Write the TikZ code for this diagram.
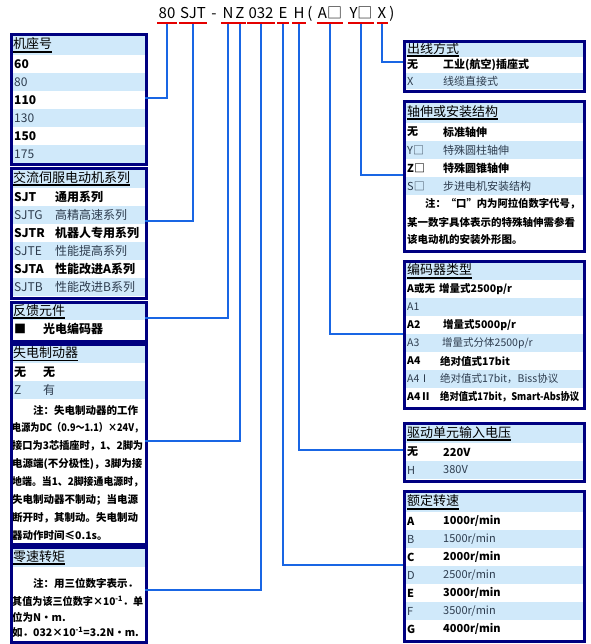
\documentclass[tikz,border=0pt]{standalone}
\usepackage{fontspec}
\usepackage{graphicx}
\setmainfont{Noto Sans CJK SC}
\definecolor{rowblue}{RGB}{208,233,250}
\definecolor{navy}{RGB}{0,0,128}
\definecolor{lineblue}{RGB}{25,102,228}
\definecolor{ulred}{RGB}{228,0,0}
\definecolor{rowtxt}{RGB}{45,60,78}
\newsavebox{\fitbox}
\newcommand{\fitto}[2]{\sbox{\fitbox}{#2}\ifdim\wd\fitbox>#1\resizebox{#1}{\ht\fitbox}{\usebox{\fitbox}}\else\usebox{\fitbox}\fi}
\def\bxl{9.5}\def\bxr{145}\def\rh{18}
\def\rowfs{\fontsize{12}{12}\selectfont}
\newcommand{\mkrow}[7]{%
  \if#7b\def\rfill{white}\def\rfnt{\bfseries}\def\rcol{black}\else\def\rfill{rowblue}\def\rfnt{\mdseries}\def\rcol{rowtxt}\fi
  \fill[fill=\rfill] (\bxl,#2) rectangle (\bxr,#2+\rh);
  \node[anchor=west,inner sep=0,text=\rcol,font=\rowfs\rfnt] (#1c) at (#4,#2+\rh/2) {#3};
  \node[anchor=west,inner sep=0,text=\rcol,font=\rowfs\rfnt] (#1d) at (#6,#2+\rh/2) {#5};
}
\tikzset{
  boxf/.style={draw=navy,line width=3pt,inner sep=0pt,anchor=north west},
  ttl/.style={anchor=west,inner sep=0pt,font=\fontsize{13}{13}\selectfont,text=black},
  ul/.style={line width=1.6pt,black},
  ulr/.style={line width=2pt,ulred},
  conn/.style={line width=2pt,lineblue},
  code/.style={anchor=south,font=\fontsize{15}{15}\selectfont,inner xsep=1pt,inner ysep=0pt,text height=11.5pt,text depth=4pt},
  note/.style={anchor=west,inner sep=0pt,font=\fontsize{10.5}{10.5}\selectfont\bfseries,text=black},
}
\begin{document}
\begin{tikzpicture}[x=1pt,y=-1pt]
\useasboundingbox (0,0) rectangle (590,644);
\fill[white] (0,0) rectangle (590,644);
% ---------- top code ----------
\node[code] (cA) at (167,23) {80};
\node[code] (cB) at (193,23) {SJT};
\node[code] (cDash) at (214,23) {-};
\node[code] (cN) at (228,23) {N};
\node[code] (cZ) at (240,23) {Z};
\node[code] (cT) at (261,23) {032};
\node[code] (cE) at (283,23) {E};
\node[code] (cH) at (299,23) {H};
\node[code] (cLP) at (310,23) {(};
\node[code] (cAb) at (330,23) {A□};
\node[code] (cYb) at (361,23) {Y□};
\node[code] (cX) at (382,23) {X};
\node[code] (cRP) at (392,23) {)};
\foreach \n in {cA,cB,cN,cZ,cT,cE,cH,cAb,cYb,cX}{\draw[ulr] (\n.south west) -- (\n.south east);}
% ---------- left boxes ----------
% B1
\fill[rowblue] (9.5,33) rectangle (145,55);
\node[ttl] (T1) at (13,44) {机座号};
\draw[ul] ([yshift=-1.5pt]T1.south west) -- ([yshift=-1.5pt]T1.south east);
\mkrow{a1}{55}{\textbf{60}}{14}{}{55}{b}
\mkrow{a2}{73}{80}{14}{}{55}{r}
\mkrow{a3}{91}{110}{14}{}{55}{b}
\mkrow{a4}{109}{130}{14}{}{55}{r}
\mkrow{a5}{127}{150}{14}{}{55}{b}
\mkrow{a6}{145}{175}{14}{}{55}{r}
\node[boxf,minimum width=135.5pt,minimum height=130pt] (B1) at (9.5,33) {};
% B2
\fill[rowblue] (9.5,167) rectangle (145,188);
\node[ttl] (T2) at (13,177.5) {交流伺服电动机系列};
\draw[ul] ([yshift=-1.5pt]T2.south west) -- ([yshift=-1.5pt]T2.south east);
\mkrow{b1}{188}{SJT}{14}{通用系列}{55}{b}
\mkrow{b2}{206}{SJTG}{14}{高精高速系列}{55}{r}
\mkrow{b3}{224}{SJTR}{14}{机器人专用系列}{55}{b}
\mkrow{b4}{242}{SJTE}{14}{性能提高系列}{55}{r}
\mkrow{b5}{260}{SJTA}{14}{性能改进A系列}{55}{b}
\mkrow{b6}{278}{SJTB}{14}{性能改进B系列}{55}{r}
\node[boxf,minimum width=135.5pt,minimum height=130pt] (B2) at (9.5,167) {};
% B3
\fill[rowblue] (9.5,301) rectangle (145,320);
\node[ttl] (T3) at (13,310.5) {反馈元件};
\draw[ul] ([yshift=-1.5pt]T3.south west) -- ([yshift=-1.5pt]T3.south east);
\mkrow{c1}{320}{■}{14}{光电编码器}{43}{b}
\node[boxf,minimum width=135.5pt,minimum height=39pt] (B3) at (9.5,301) {};
% B4
\fill[rowblue] (9.5,343) rectangle (145,363);
\node[ttl] (T4) at (13,353) {失电制动器};
\draw[ul] ([yshift=-1.5pt]T4.south west) -- ([yshift=-1.5pt]T4.south east);
\mkrow{d1}{363}{无}{14}{无}{43}{b}
\mkrow{d2}{381}{Z}{14}{有}{43}{r}
\node[note] (n41) at (33,410) {\fitto{110pt}{注：失电制动器的工作}};
\node[note] (n42) at (12,428) {\fitto{131pt}{电源为DC（0.9～1.1）×24V，}};
\node[note] (n43) at (12,446) {\fitto{131pt}{接口为3芯插座时，1、2脚为}};
\node[note] (n44) at (12,464) {\fitto{131pt}{电源端(不分极性)，3脚为接}};
\node[note] (n45) at (12,482) {\fitto{131pt}{地端。当1、2脚接通电源时，}};
\node[note] (n46) at (12,500) {\fitto{131pt}{失电制动器不制动；当电源}};
\node[note] (n47) at (12,518) {\fitto{131pt}{断开时，其制动。失电制动}};
\node[note] (n48) at (12,536) {器动作时间≤0.1s。};
\node[boxf,minimum width=135.5pt,minimum height=200pt] (B4) at (9.5,343) {};
% B5
\fill[rowblue] (9.5,546) rectangle (145,567);
\node[ttl] (T5) at (13,556.5) {零速转矩};
\draw[ul] ([yshift=-1.5pt]T5.south west) -- ([yshift=-1.5pt]T5.south east);
\node[note] (n51) at (33,583) {注：用三位数字表示．};
\node[note] (n52) at (12,601) {\fitto{131pt}{其值为该三位数字×10\textsuperscript{-1}．单}};
\node[note] (n53) at (12,617) {位为N·m.};
\node[note] (n54) at (12,632) {如．032×10\textsuperscript{-1}=3.2N·m.};
\node[boxf,minimum width=135.5pt,minimum height=95pt] (B5) at (9.5,546) {};
% ---------- right boxes ----------
\def\bxl{403}\def\bxr{583}\def\rowfs{\fontsize{11}{11}\selectfont}
% R1
\def\rh{16}
\fill[rowblue] (403,40) rectangle (583,57);
\node[ttl] (U1) at (407,48.5) {出线方式};
\draw[ul] ([yshift=-1.5pt]U1.south west) -- ([yshift=-1.5pt]U1.south east);
\mkrow{e1}{57}{无}{407}{工业(航空)插座式}{443}{b}
\mkrow{e2}{73}{X}{407}{线缆直接式}{443}{r}
\node[boxf,minimum width=180pt,minimum height=50pt] (R1) at (403,40) {};
% R2
\def\rh{18}
\fill[rowblue] (403,100) rectangle (583,123);
\node[ttl] (U2) at (407,111.5) {轴伸或安装结构};
\draw[ul] ([yshift=-1.5pt]U2.south west) -- ([yshift=-1.5pt]U2.south east);
\mkrow{f1}{123}{无}{407}{标准轴伸}{443}{b}
\mkrow{f2}{141}{Y□}{407}{特殊圆柱轴伸}{443}{r}
\mkrow{f3}{159}{Z□}{407}{特殊圆锥轴伸}{443}{b}
\mkrow{f4}{177}{S□}{407}{步进电机安装结构}{443}{r}
\node[note] (n21) at (425,204) {\fitto{155pt}{注：“口”内为阿拉伯数字代号，}};
\node[note] (n22) at (407,222) {\fitto{173pt}{某一数字具体表示的特殊轴伸需参看}};
\node[note] (n23) at (407,240) {该电动机的安装外形图。};
\node[boxf,minimum width=180pt,minimum height=150pt] (R2) at (403,100) {};
% R3
\def\rowfs{\fontsize{10.5}{10.5}\selectfont}
\fill[rowblue] (403,260) rectangle (583,280);
\node[ttl] (U3) at (407,270) {编码器类型};
\draw[ul] ([yshift=-1.5pt]U3.south west) -- ([yshift=-1.5pt]U3.south east);
\mkrow{g1}{280}{A或无}{407}{增量式2500p/r}{439}{b}
\mkrow{g2}{298}{A1}{407}{}{443}{r}
\mkrow{g3}{316}{A2}{407}{增量式5000p/r}{443}{b}
\mkrow{g4}{334}{A3}{407}{增量式分体2500p/r}{442}{r}
\mkrow{g5}{352}{A4}{407}{绝对值式17bit}{440}{b}
\mkrow{g6}{370}{A4Ⅰ}{407}{绝对值式17bit，Biss协议}{440}{r}
\mkrow{g7}{388}{A4Ⅱ}{407}{\fitto{139pt}{绝对值式17bit，Smart-Abs协议}}{440}{b}
\node[boxf,minimum width=180pt,minimum height=147pt] (R3) at (403,260) {};
% R4
\def\rowfs{\fontsize{11}{11}\selectfont}
\fill[rowblue] (403,422) rectangle (583,443);
\node[ttl] (U4) at (407,432.5) {驱动单元输入电压};
\draw[ul] ([yshift=-1.5pt]U4.south west) -- ([yshift=-1.5pt]U4.south east);
\mkrow{h1}{443}{无}{407}{220V}{443}{b}
\mkrow{h2}{461}{H}{407}{380V}{443}{r}
\node[boxf,minimum width=180pt,minimum height=58pt] (R4) at (403,422) {};
% R5
\fill[rowblue] (403,490) rectangle (583,512);
\node[ttl] (U5) at (407,501) {额定转速};
\draw[ul] ([yshift=-1.5pt]U5.south west) -- ([yshift=-1.5pt]U5.south east);
\mkrow{i1}{512}{A}{407}{1000r/min}{443}{b}
\mkrow{i2}{530}{B}{407}{1500r/min}{443}{r}
\mkrow{i3}{548}{C}{407}{2000r/min}{443}{b}
\mkrow{i4}{566}{D}{407}{2500r/min}{443}{r}
\mkrow{i5}{584}{E}{407}{3000r/min}{443}{b}
\mkrow{i6}{602}{F}{407}{3500r/min}{443}{r}
\mkrow{i7}{620}{G}{407}{4000r/min}{443}{b}
\node[boxf,minimum width=180pt,minimum height=150pt] (R5) at (403,490) {};
% ---------- connectors ----------
\coordinate (k1) at (145,98);
\coordinate (k2) at (145,221);
\coordinate (k3) at (145,318);
\coordinate (k4) at (145,441);
\coordinate (k5) at (145,590);
\coordinate (m1) at (403,62);
\coordinate (m2) at (403,175);
\coordinate (m3) at (403,334);
\coordinate (m4) at (403,450);
\coordinate (m5) at (403,565);
\draw[conn] ([yshift=-1.5pt]cA.south) |- (k1);
\draw[conn] ([yshift=-1.5pt]cB.south) |- (k2);
\draw[conn] ([yshift=-1.5pt]cN.south) |- (k3);
\draw[conn] ([yshift=-1.5pt]cZ.south) |- (k4);
\draw[conn] ([yshift=-1.5pt]cT.south) |- (k5);
\draw[conn] ([yshift=-1.5pt]cX.south) |- (m1);
\draw[conn] ([yshift=-1.5pt]cYb.south) |- (m2);
\draw[conn] ([yshift=-1.5pt]cAb.south) |- (m3);
\draw[conn] ([yshift=-1.5pt]cH.south) |- (m4);
\draw[conn] ([yshift=-1.5pt]cE.south) |- (m5);
\end{tikzpicture}
\end{document}
